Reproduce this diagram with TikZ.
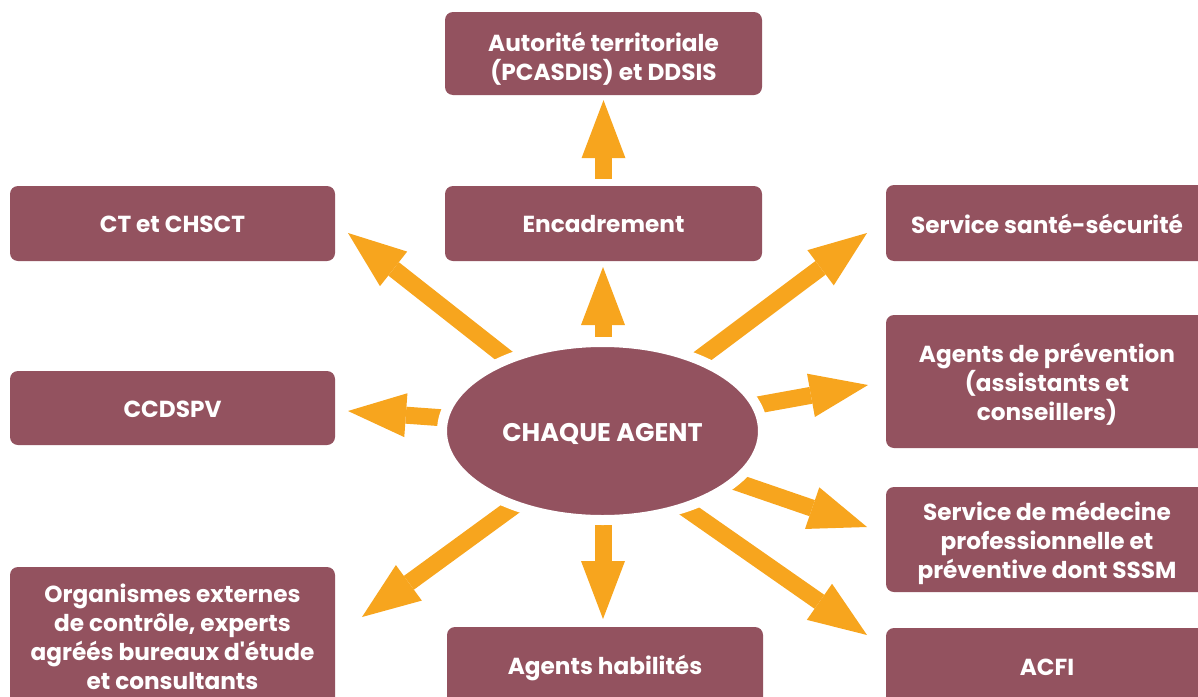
\documentclass[tikz,border=0pt]{standalone}
\usepackage{fontspec}
\setmainfont{Poppins}
\usetikzlibrary{arrows.meta,backgrounds,shapes.geometric}
\definecolor{boxc}{HTML}{93525F}
\definecolor{arrc}{HTML}{F7A51E}
\begin{document}
\begin{tikzpicture}[x=1pt,y=-1pt,
  box/.style={fill=boxc, rounded corners=8pt, inner sep=0pt},
  txt/.style={text=white, font=\bfseries\fontsize{23.2}{29}\selectfont, align=center, inner sep=0pt},
  fat/.style={draw=arrc, line width=17pt,
    -{Triangle[length=58pt,width=44pt,line width=0pt]}}]
\useasboundingbox (0,0) rectangle (1198,696);
% boxes
\node[box, minimum width=317pt, minimum height=83pt] (aut) at (603.5,53.5) {};
\node[box, minimum width=317pt, minimum height=75pt] (enc) at (603.5,223.5) {};
\node[box, minimum width=325pt, minimum height=75pt] (ct) at (172.5,223.5) {};
\node[box, minimum width=322pt, minimum height=76pt] (sss) at (1047,223) {};
\node[box, minimum width=322pt, minimum height=133pt] (prev) at (1047,381.5) {};
\node[box, minimum width=322pt, minimum height=105pt] (med) at (1047,539.5) {};
\node[box, minimum width=322pt, minimum height=76pt] (acfi) at (1047,666) {};
\node[box, minimum width=325pt, minimum height=74pt] (ccd) at (172.5,408) {};
\node[box, minimum width=325pt, minimum height=139pt] (org) at (172.5,636.5) {};
\node[box, minimum width=316pt, minimum height=78pt] (hab) at (605,666) {};
% texts
\node[txt] (aut-t) at ([yshift=-5pt]aut.center) {Autorité territoriale\\(PCASDIS) et DDSIS};
\node[txt] (enc-t) at ([yshift=-1pt]enc.center) {Encadrement};
\node[txt] (ct-t) at ([yshift=-1pt]ct.center) {CT et CHSCT};
\node[txt] (sss-t) at ([yshift=-1pt]sss.center) {Service santé-sécurité};
\node[txt] (prev-t) at ([yshift=-2.5pt]prev.center) {Agents de prévention\\(assistants et\\conseillers)};
\node[txt] (med-t) at ([yshift=-3pt]med.center) {Service de médecine\\professionnelle et\\préventive dont SSSM};
\node[txt] (acfi-t) at ([yshift=-1pt]acfi.center) {ACFI};
\node[txt] (ccd-t) at ([yshift=-1pt]ccd.center) {CCDSPV};
\node[txt] (org-t) at ([yshift=-0.5pt]org.center) {Organismes externes\\de contrôle, experts\\agréés bureaux d\textquotesingle étude\\et consultants};
\node[txt] (hab-t) at ([yshift=-2pt]hab.center) {Agents habilités};
% central ellipse
\node[ellipse, fill=boxc, draw=white, line width=10pt, minimum width=321pt, minimum height=178pt,
  inner sep=0pt] (agent) at (602.5,431) {};
\node[txt, font=\bfseries\fontsize{25.5}{30}\selectfont] (agent-t) at ([yshift=-3pt]agent.center) {CHAQUE AGENT};
% arrow start/end coordinates
\coordinate (s-ct) at (531,377);   \coordinate (t-ct) at (348,233);
\coordinate (s-ccd) at (473,420);  \coordinate (t-ccd) at (348,411);
\coordinate (s-org) at (536,490);  \coordinate (t-org) at (362,617);
\coordinate (s-hab) at (603,500);  \coordinate (t-hab) at (603,619);
\coordinate (s-med) at (707,472);  \coordinate (t-med) at (867,527);
\coordinate (s-acfi) at (665,494); \coordinate (t-acfi) at (867,635);
\coordinate (s-prev) at (730,410); \coordinate (t-prev) at (868,385);
\coordinate (s-sss) at (676,376);  \coordinate (t-sss) at (867,233);
\coordinate (s-enc) at (603,370);  \coordinate (t-enc) at (603,267);
\begin{scope}[on background layer]
\draw[fat] (s-ct) -- (t-ct);
\draw[fat] (s-ccd) -- (t-ccd);
\draw[fat] (s-org) -- (t-org);
\draw[fat] (s-hab) -- (t-hab);
\draw[fat] (s-med) -- (t-med);
\draw[fat] (s-acfi) -- (t-acfi);
\draw[fat] (s-prev) -- (t-prev);
\draw[fat] (s-sss) -- (t-sss);
\draw[fat] (s-enc) -- (t-enc);
\end{scope}
\draw[fat] ([yshift=7pt]enc.north) -- ([yshift=-5pt]aut.south);
\end{tikzpicture}
\end{document}
